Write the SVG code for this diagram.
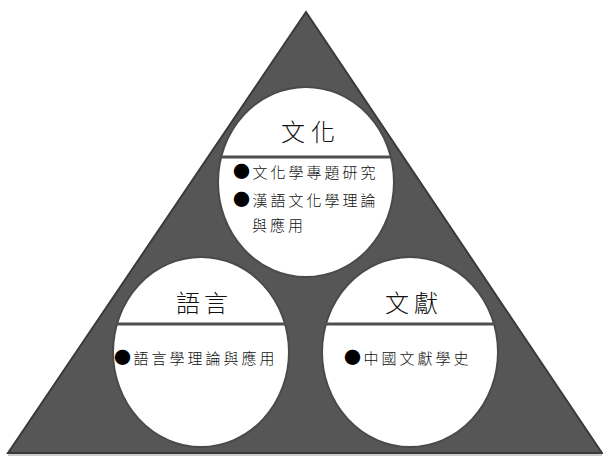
<svg xmlns="http://www.w3.org/2000/svg" width="603" height="456" viewBox="0 0 603 456">
  <style>
    .tri { fill: #565656; stroke: #3a3a3a; stroke-width: 2; stroke-linejoin: miter; }
    .circ { fill: #ffffff; stroke: #4a4a4a; stroke-width: 2; }
    .div { stroke: #4f4f4f; stroke-width: 3; }
    .hdr { font-family: "Noto Sans CJK TC", "Noto Sans CJK SC", sans-serif; font-size: 24px; fill: #111; font-weight: 300; }
    .item { font-family: "Noto Sans CJK TC", "Noto Sans CJK SC", sans-serif; font-size: 15px; fill: #111; font-weight: 300; letter-spacing: 3px; }
    .bul { font-size: 17px; letter-spacing: 2.5px; fill: #000; }
  </style>
  <rect width="603" height="456" fill="#ffffff"/>
  <g id="base">
    <line x1="8" y1="455" x2="602" y2="455" stroke="#bbbbbb" stroke-width="1.5"/>
    <polygon class="tri" points="306,12 602,453 8,453"/>
  </g>
  <g id="connectors"></g>
  <g id="node-culture">
    <ellipse class="circ" cx="306" cy="182" rx="88" ry="95"/>
    <line class="div" x1="222" y1="157" x2="390" y2="157"/>
    <text class="hdr" x="281" y="141" letter-spacing="6">文化</text>
    <text class="item" x="233" y="178"><tspan class="bul">●</tspan>文化學專題研究</text>
    <text class="item" x="233" y="206"><tspan class="bul">●</tspan>漢語文化學理論</text>
    <text class="item" x="252" y="231">與應用</text>
  </g>
  <g id="node-language">
    <ellipse class="circ" cx="201" cy="352" rx="88" ry="95"/>
    <line class="div" x1="116" y1="324" x2="286" y2="324"/>
    <text class="hdr" x="176" y="312" letter-spacing="4">語言</text>
    <text class="item" x="114" y="364" letter-spacing="3.2"><tspan class="bul">●</tspan>語言學理論與應用</text>
  </g>
  <g id="node-literature">
    <ellipse class="circ" cx="410" cy="352" rx="88" ry="95"/>
    <line class="div" x1="325" y1="324" x2="495" y2="324"/>
    <text class="hdr" x="385" y="312" letter-spacing="5">文獻</text>
    <text class="item" x="344" y="364" letter-spacing="3"><tspan class="bul">●</tspan>中國文獻學史</text>
  </g>
</svg>
